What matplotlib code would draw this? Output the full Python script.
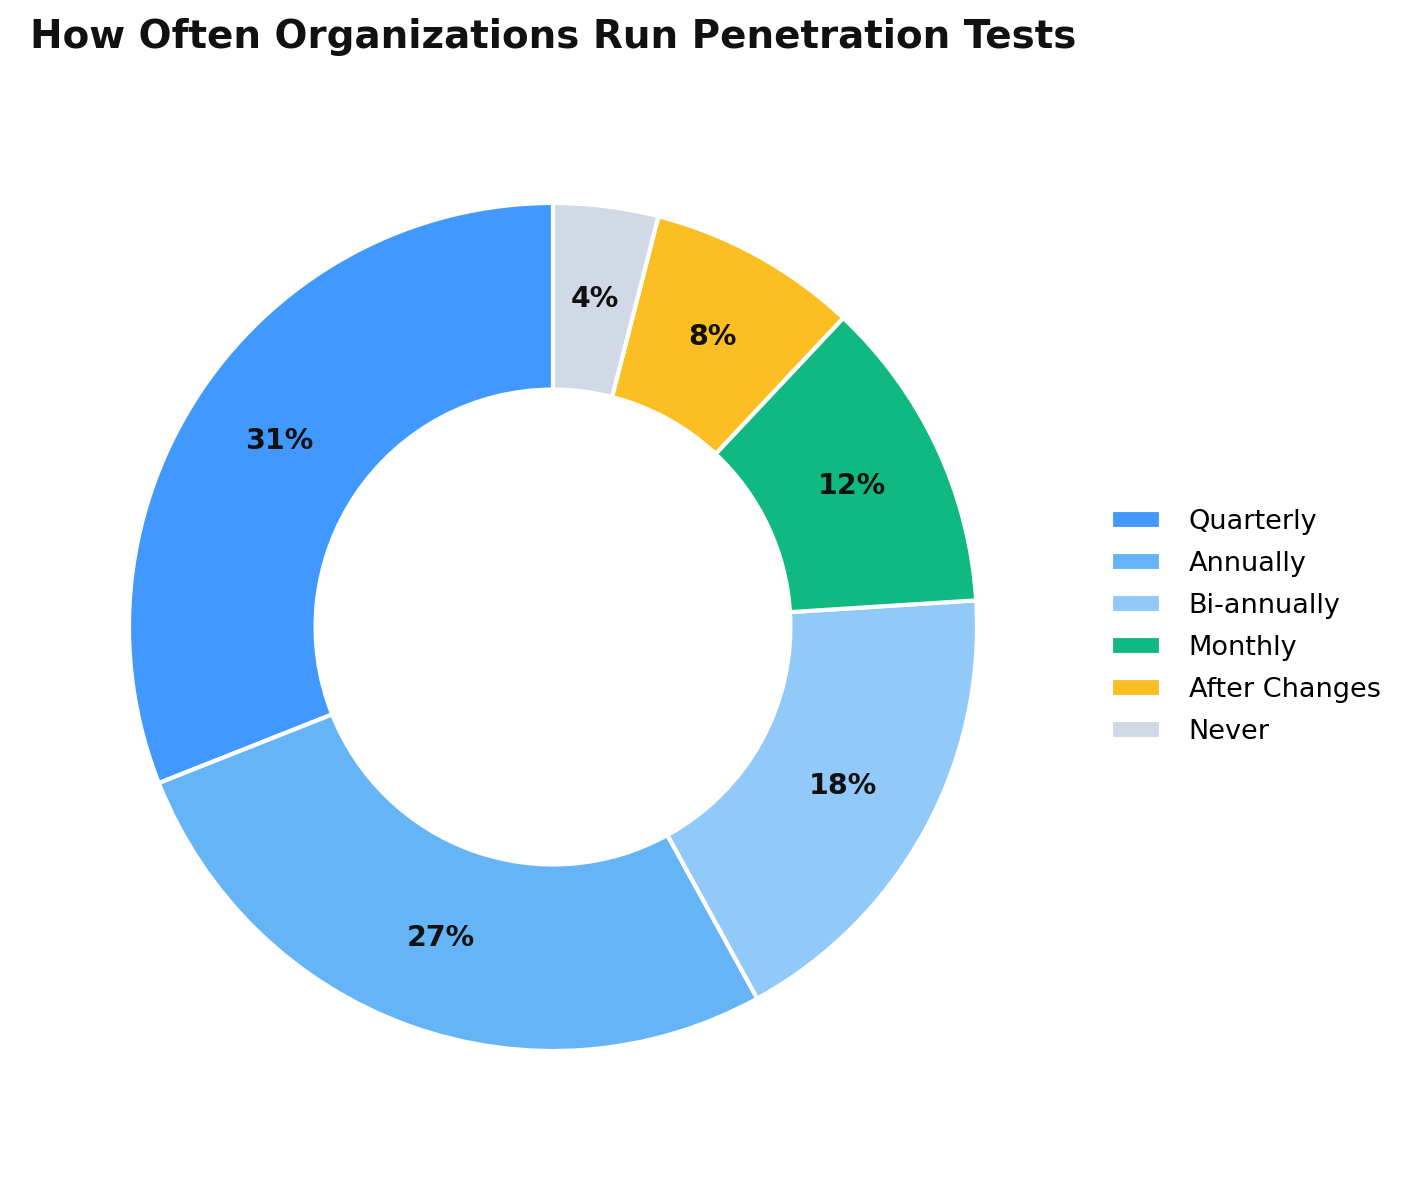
import matplotlib
matplotlib.use("Agg")
import matplotlib.pyplot as plt

categories = ["Quarterly", "Annually", "Bi-annually", "Monthly", "After Changes", "Never"]
values = [31, 27, 18, 12, 8, 4]
colors = ["#4198ff", "#64b4f6", "#91c9f8", "#10b981", "#fbbf24", "#d1d9e6"]

W, H = 1415, 1180
fig = plt.figure(figsize=(W / 100, H / 100), dpi=100)
cx, cy, r = 553, 627, 424
ax = fig.add_axes([(cx - r) / W, (H - cy - r) / H, 2 * r / W, 2 * r / H])

wedges, texts, autotexts = ax.pie(
    values, colors=colors, startangle=90, counterclock=True,
    autopct="%d%%", pctdistance=0.78,
    wedgeprops=dict(width=0.44, edgecolor="white", linewidth=3),
    textprops=dict(fontsize=20.5, fontweight="bold", color="#111111"),
)
ax.set_xlim(-1, 1)
ax.set_ylim(-1, 1)
ax.set_aspect("equal")

fig.text(30 / W, 1 - 37 / H, "How Often Organizations Run Penetration Tests",
         fontsize=28, fontweight="bold", color="#111111", va="center", ha="left")

fig.legend(wedges, categories, loc="center left", bbox_to_anchor=(1087 / W, 1 - 627 / H),
           frameon=False, fontsize=19.5, handlelength=1.85, handletextpad=1.0,
           labelspacing=0.59)

fig.savefig("out.png", dpi=100)
